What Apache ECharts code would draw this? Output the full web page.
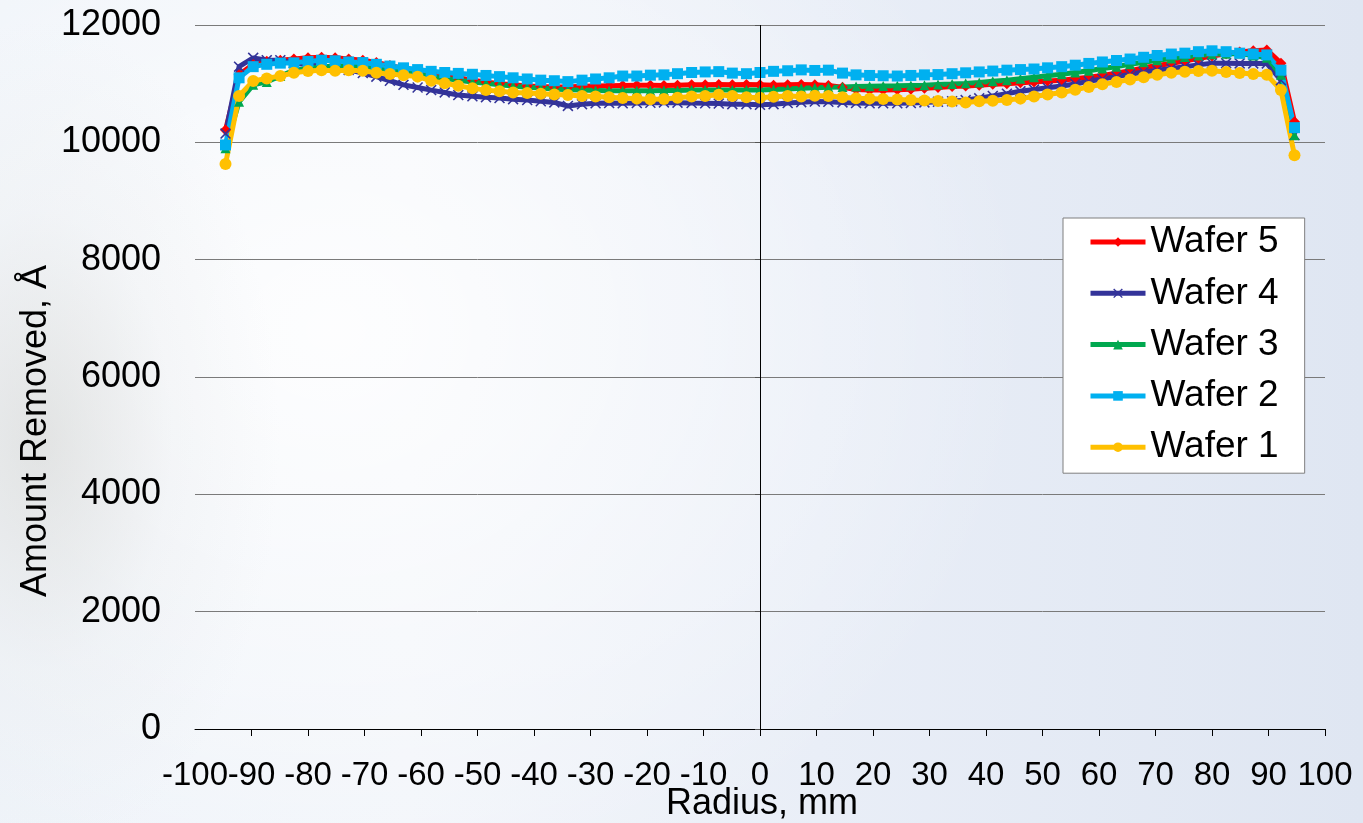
<!DOCTYPE html>
<html>
<head>
<meta charset="utf-8">
<script src="https://cdn.jsdelivr.net/npm/echarts@6/dist/echarts.min.js"></script>
<style>
  html, body { margin: 0; padding: 0; width: 1363px; height: 823px; overflow: hidden; }
  body {
    background:
      radial-gradient(ellipse 240px 420px at 40px 440px, rgba(195,195,190,0.40), rgba(220,222,224,0.18) 55%, rgba(255,255,255,0) 100%),
      radial-gradient(ellipse 700px 600px at 330px 330px, rgba(255,255,255,0.85), rgba(255,255,255,0) 100%),
      linear-gradient(90deg, #eef3f9 0%, #f2f5fa 30%, #e9eef7 60%, #dfe6f2 100%);
  }
  #chart { width: 1363px; height: 823px; }
</style>
</head>
<body>
<div id="chart"></div>
<script>
// Radial measurement positions (mm)
const radius = [
  -94.6, -92.2, -89.7, -87.3, -84.9, -82.5, -80.0, -77.6, -75.2, -72.8,
  -70.3, -67.9, -65.5, -63.1, -60.6, -58.2, -55.8, -53.4, -50.9, -48.5,
  -46.1, -43.7, -41.2, -38.8, -36.4, -34.0, -31.5, -29.1, -26.7, -24.3,
  -21.8, -19.4, -17.0, -14.6, -12.1, -9.7, -7.3, -4.9, -2.4, 0.0,
  2.4, 4.9, 7.3, 9.7, 12.1, 14.6, 17.0, 19.4, 21.8, 24.3,
  26.7, 29.1, 31.5, 34.0, 36.4, 38.8, 41.2, 43.7, 46.1, 48.5,
  50.9, 53.4, 55.8, 58.2, 60.6, 63.1, 65.5, 67.9, 70.3, 72.8,
  75.2, 77.6, 80.0, 82.5, 84.9, 87.3, 89.7, 92.2, 94.6
];

// Amount removed (Angstrom) per wafer
const wafer5 = [
  10210, 11150, 11330, 11380, 11400, 11420, 11440, 11450, 11440, 11420,
  11400, 11360, 11310, 11260, 11220, 11180, 11140, 11100, 11060, 11030,
  11000, 10980, 10960, 10950, 10945, 10945, 10955, 10960, 10965, 10970,
  10975, 10975, 10970, 10975, 10980, 10980, 10985, 10980, 10985, 10980,
  10975, 10980, 10985, 10980, 10970, 10940, 10900, 10890, 10890, 10895,
  10905, 10920, 10935, 10950, 10960, 10975, 10990, 11000, 11015, 11030,
  11045, 11060, 11085, 11110, 11140, 11180, 11220, 11270, 11310, 11345,
  11390, 11430, 11470, 11510, 11540, 11560, 11575, 11350, 10350
];
const wafer4 = [
  10150, 11290, 11440, 11400, 11400, 11350, 11320, 11300, 11270, 11235,
  11180, 11120, 11050, 10980, 10935, 10890, 10850, 10805, 10785, 10770,
  10755, 10735, 10720, 10700, 10680, 10620, 10650, 10665, 10670, 10665,
  10670, 10675, 10680, 10676, 10670, 10665, 10660, 10650, 10650, 10640,
  10650, 10670, 10685, 10695, 10690, 10680, 10670, 10665, 10665, 10665,
  10670, 10680, 10690, 10700, 10720, 10750, 10790, 10830, 10870, 10900,
  10930, 10960, 10995, 11040, 11080, 11120, 11160, 11200, 11230, 11260,
  11290, 11320, 11350, 11350, 11345, 11345, 11345, 11060, 10125
];
const wafer3 = [
  9900, 10690, 10980, 11030, 11130, 11230, 11260, 11290, 11300, 11300,
  11290, 11270, 11240, 11200, 11160, 11120, 11090, 11060, 11030, 11005,
  10980, 10960, 10940, 10925, 10910, 10895, 10890, 10885, 10880, 10880,
  10880, 10880, 10885, 10885, 10890, 10890, 10890, 10890, 10890, 10890,
  10900, 10910, 10920, 10930, 10940, 10945, 10950, 10955, 10960, 10965,
  10970, 10975, 10985, 10995, 11005, 11020, 11040, 11060, 11085, 11110,
  11135, 11160, 11190, 11220, 11260, 11290, 11330, 11365, 11400, 11430,
  11455, 11480, 11500, 11510, 11515, 11480, 11440, 11150, 10120
];
const wafer2 = [
  9955, 11100, 11290, 11330, 11350, 11355, 11380, 11400, 11390, 11370,
  11360, 11330, 11300, 11270, 11240, 11210, 11190, 11175, 11160, 11140,
  11120, 11100, 11080, 11060, 11050, 11035, 11060, 11080, 11100, 11130,
  11130, 11145, 11150, 11170, 11190, 11200, 11205, 11180, 11170, 11190,
  11210, 11220, 11235, 11225, 11230, 11180, 11150, 11140, 11135, 11130,
  11140, 11150, 11155, 11170, 11185, 11200, 11215, 11230, 11240, 11250,
  11270, 11290, 11315, 11345, 11370, 11395, 11420, 11450, 11480, 11505,
  11520, 11545, 11560, 11545, 11520, 11505, 11490, 11230, 10250
];
const wafer1 = [
  9630, 10790, 11045, 11090, 11130, 11185, 11215, 11230, 11220, 11230,
  11220, 11185, 11165, 11145, 11120, 11050, 11005, 10965, 10920, 10890,
  10870, 10850, 10840, 10830, 10815, 10805, 10790, 10780, 10770, 10755,
  10745, 10735, 10740, 10760, 10780, 10790, 10810, 10790, 10770, 10760,
  10775, 10790, 10780, 10795, 10790, 10770, 10750, 10745, 10740, 10730,
  10720, 10715, 10705, 10695, 10680, 10700, 10710, 10720, 10745, 10780,
  10815, 10850, 10895, 10945, 10990, 11030, 11070, 11110, 11150, 11185,
  11205, 11215, 11220, 11200, 11180, 11165, 11150, 10890, 9780
];

const seriesNames = ['Wafer 5', 'Wafer 4', 'Wafer 3', 'Wafer 2', 'Wafer 1'];
const xTicks = { min: -100, max: 100, step: 10 };
const yTicks = { min: 0, max: 12000, step: 2000 };
const xTitle = 'Radius, mm';
const yTitle = 'Amount Removed, Å';

const FONT = '"Liberation Sans", Arial, sans-serif';
const crossPath = 'path://M0,1 L1,0 L5,4 L9,0 L10,1 L6,5 L10,9 L9,10 L5,6 L1,10 L0,9 L4,5 Z';

function pairs(values) {
  return radius.map((r, i) => [r, values[i]]);
}

function lineSeries(name, values, color, symbol, size) {
  return {
    name: name,
    type: 'line',
    data: pairs(values),
    symbol: symbol,
    symbolSize: size,
    showAllSymbol: true,
    lineStyle: { color: color, width: 5 },
    itemStyle: { color: color, borderWidth: 0 },
    emphasis: { disabled: true },
    animation: false
  };
}

const series = [
  lineSeries(seriesNames[0], wafer5, '#ff0000', 'diamond', 11),
  lineSeries(seriesNames[1], wafer4, '#333399', crossPath, 11),
  lineSeries(seriesNames[2], wafer3, '#00a84f', 'triangle', 10),
  lineSeries(seriesNames[3], wafer2, '#00b0f0', 'rect', 11),
  lineSeries(seriesNames[4], wafer1, '#ffc000', 'circle', 12)
];

// Vertical reference line at radius 0
series[0].markLine = {
  silent: true,
  symbol: 'none',
  label: { show: false },
  lineStyle: { color: '#000', width: 1, type: 'solid' },
  data: [{ xAxis: 0 }],
  animation: false
};

const tickLabelStyle = { fontFamily: FONT, fontSize: 33, color: '#000', margin: 30, hideOverlap: false };

const chart = echarts.init(document.getElementById('chart'), null, { renderer: 'canvas' });
chart.setOption({
  backgroundColor: 'transparent',
  animation: false,
  grid: { left: 195, right: 38, top: 25, bottom: 94, containLabel: false, outerBoundsMode: 'none' },
  xAxis: [{
    type: 'value',
    min: xTicks.min, max: xTicks.max, interval: xTicks.step,
    axisLine: { show: true, onZero: false, lineStyle: { color: '#000', width: 1 } },
    axisTick: { show: true, inside: false, length: 7, lineStyle: { color: '#000' } },
    axisLabel: Object.assign({ showMinLabel: false, showMaxLabel: true }, tickLabelStyle),
    splitLine: { show: false }
  }, {
    // carries only the leftmost tick label, which overlaps its neighbour
    type: 'value',
    position: 'bottom',
    min: xTicks.min, max: xTicks.max, interval: xTicks.step,
    axisLine: { show: false, onZero: false },
    axisTick: { show: false },
    axisLabel: Object.assign({
      showMinLabel: true, showMaxLabel: false,
      formatter: (v) => (v === xTicks.min ? String(v) : '')
    }, tickLabelStyle),
    splitLine: { show: false }
  }],
  yAxis: {
    type: 'value',
    min: yTicks.min, max: yTicks.max, interval: yTicks.step,
    axisLine: { show: false },
    axisTick: { show: true, length: 5, lineStyle: { color: '#555' } },
    axisLabel: {
      fontFamily: FONT, fontSize: 36, color: '#000', margin: 34,
      formatter: (v) => String(v)
    },
    splitLine: { show: true, lineStyle: { color: '#7a7a7a', width: 1 } }
  },
  legend: {
    orient: 'vertical',
    left: 1063,
    top: 218,
    data: seriesNames,
    backgroundColor: '#ffffff',
    borderColor: '#7f7f7f',
    borderWidth: 1,
    borderRadius: 0,
    padding: [5, 26, 7, 25],
    itemGap: 13.3,
    itemWidth: 55,
    itemHeight: 12,
    lineStyle: { width: 5 },
    textStyle: { fontFamily: FONT, fontSize: 37, color: '#000', lineHeight: 38 },
    selectedMode: false
  },
  graphic: [{
    type: 'text',
    x: 36,
    y: 431,
    rotation: Math.PI / 2,
    silent: true,
    style: {
      text: yTitle,
      fontFamily: FONT,
      fontSize: 36,
      fill: '#000',
      align: 'center',
      verticalAlign: 'middle'
    }
  }, {
    type: 'text',
    x: 762,
    y: 804,
    silent: true,
    style: {
      text: xTitle,
      fontFamily: FONT,
      fontSize: 36,
      fill: '#000',
      align: 'center',
      verticalAlign: 'middle'
    }
  }],
  series: series
});
</script>
</body>
</html>
